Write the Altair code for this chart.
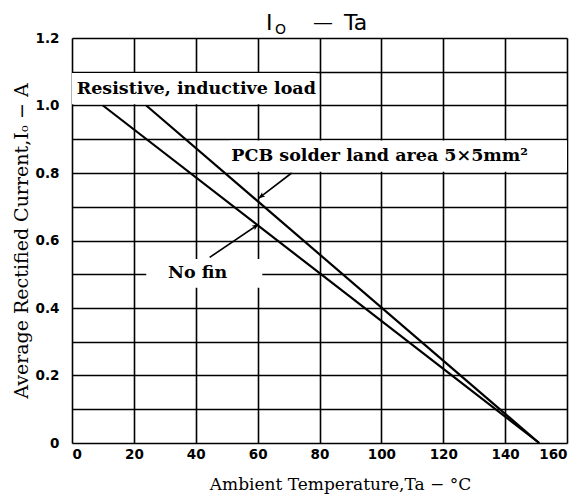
import altair as alt
import pandas as pd
import math

# ---- data ----
nofin_T = [10, 151]
nofin_I = [1.0, 0.0]
pcb_T = [24, 151]
pcb_I = [1.0, 0.0]

x_grid = [0, 20, 40, 60, 80, 100, 120, 140, 160]
y_grid = [round(i * 0.1, 1) for i in range(13)]

# white label boxes (hide the grid behind the labels)
box_x = [0, 51, 24]
box_x2 = [79, 160, 61.5]
box_y = [1.004, 0.804, 0.46]
box_y2 = [1.096, 0.896, 0.545]

label_text = ["Resistive, inductive load", "PCB solder land area 5\u00d75mm\u00b2", "No fin"]
label_x = [1.5, 51.5, 31]
label_y = [1.05, 0.85, 0.505]

arrow_x = [71, 44.5]
arrow_y = [0.80, 0.55]
arrow_x2 = [60.3, 60.3]
arrow_y2 = [0.725, 0.648]

# chart title pieces: I, subscript O, dash, Ta
title_parts = ["I", "O", "\u2014", "Ta"]

W, H = 495, 405
XMAX, YMAX = 160, 1.2

lines = pd.concat([
    pd.DataFrame({"T": nofin_T, "I": nofin_I, "s": "No fin"}),
    pd.DataFrame({"T": pcb_T, "I": pcb_I, "s": "PCB"}),
])
boxes = pd.DataFrame({"x": box_x, "x2": box_x2, "y": box_y, "y2": box_y2})
labels = pd.DataFrame({"t": label_text, "x": label_x, "y": label_y})

angles = []
for x1, y1, x2, y2 in zip(arrow_x, arrow_y, arrow_x2, arrow_y2):
    dx = (x2 - x1) * W / XMAX
    dy = -(y2 - y1) * H / YMAX
    a = math.degrees(math.atan2(dx, -dy)) % 360
    angles.append(a)
arrows = pd.DataFrame({"x": arrow_x, "y": arrow_y, "x2": arrow_x2, "y2": arrow_y2, "a": angles})

xs = alt.Scale(domain=[0, XMAX], nice=False, zero=False)
ys = alt.Scale(domain=[0, YMAX], nice=False, zero=False)

serif = "DejaVu Serif"
sans = "DejaVu Sans"

xaxis = alt.Axis(values=x_grid, title="Ambient Temperature,Ta \u2212 \u00b0C",
                 grid=True, gridColor="black", gridWidth=1.6, gridOpacity=1,
                 domain=False, ticks=False, labelPadding=4,
                 labelFont=sans, labelFontWeight="bold", labelFontSize=13.5, labelColor="black",
                 titleFont=serif, titleFontSize=17, titleFontWeight="normal", titleColor="black",
                 titlePadding=16, titleX=268)
yaxis = alt.Axis(values=y_grid, title="Average Rectified Current,I\u2092 \u2212 A",
                 grid=True, gridColor="black", gridWidth=1.6, gridOpacity=1,
                 domain=False, ticks=False, labelPadding=13,
                 labelExpr="datum.value == 0 ? '0' : (round(datum.value*10) % 2 == 0 ? format(datum.value, '.1f') : '')",
                 labelFont=sans, labelFontWeight="bold", labelFontSize=13.5, labelColor="black",
                 titleFont=serif, titleFontSize=19, titleFontWeight="normal", titleColor="black",
                 titlePadding=4)

X = lambda f: alt.X(f, scale=xs, axis=xaxis)
Y = lambda f: alt.Y(f, scale=ys, axis=yaxis)

base_rect = alt.Chart(boxes).mark_rect(color="white").encode(
    x=X("x:Q"), x2="x2:Q", y=Y("y:Q"), y2="y2:Q")

line_layer = alt.Chart(lines).mark_line(color="black", strokeWidth=2.2).encode(
    x=X("T:Q"), y=Y("I:Q"), detail="s:N")

text_layer = alt.Chart(labels).mark_text(align="left", baseline="middle", font=serif,
                                         fontSize=17.5, fontWeight="bold", color="black").encode(
    x=X("x:Q"), y=Y("y:Q"), text="t:N")

arrow_rule = alt.Chart(arrows).mark_rule(color="black", strokeWidth=1.6).encode(
    x=X("x:Q"), y=Y("y:Q"), x2="x2:Q", y2="y2:Q")

arrow_head = alt.Chart(arrows).mark_point(
    shape="M0,0 L-0.45,1.1 L0,0.85 L0.45,1.1 Z", size=140, filled=True,
    color="black", opacity=1).encode(
    x=X("x2:Q"), y=Y("y2:Q"), angle=alt.Angle("a:Q", scale=None))

def title_piece(txt, px, py, size, align="left"):
    return alt.Chart(pd.DataFrame({"t": [txt]})).mark_text(
        font=sans, fontSize=size, color="black", align=align, baseline="alphabetic").encode(
        text="t:N", x=alt.value(px), y=alt.value(py))

t_I = title_piece(title_parts[0], 194, -8, 22)
t_O = title_piece(title_parts[1], 203, -4, 14)
t_dash = title_piece(title_parts[2], 241, -9, 20)
t_Ta = title_piece(title_parts[3], 272, -8, 22)

chart = alt.layer(base_rect, line_layer, text_layer, arrow_rule, arrow_head,
                  t_I, t_O, t_dash, t_Ta).properties(
    width=W, height=H,
    autosize=alt.AutoSizeParams(type="none"),
    padding={"left": 64, "top": 30, "right": 5, "bottom": 52},
).configure_view(stroke="black", strokeWidth=2.2).configure(background="white")

chart.save("out.html", embed_options={"renderer": "svg", "actions": False})
